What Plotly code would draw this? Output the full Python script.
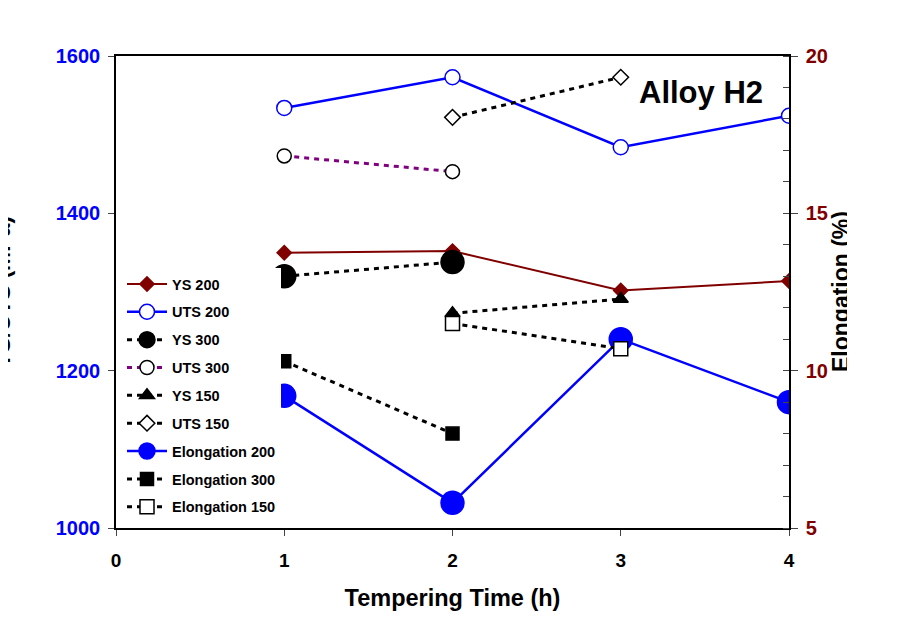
import plotly.graph_objects as go

x_ticks = [0, 1, 2, 3, 4]

# Strength (MPa), left axis
ys200_x = [1, 2, 3, 4]
ys200_y = [1350, 1352, 1302, 1314]
uts200_x = [1, 2, 3, 4]
uts200_y = [1534, 1573, 1484, 1524]
ys300_x = [1, 2]
ys300_y = [1320, 1338]
uts300_x = [1, 2]
uts300_y = [1473, 1453]
ys150_x = [2, 3]
ys150_y = [1273, 1291]
uts150_x = [2, 3]
uts150_y = [1522, 1573]

# Elongation (%), right axis
el200_x = [1, 2, 3, 4]
el200_y = [9.2, 5.8, 11.0, 9.0]
el300_x = [1, 2]
el300_y = [10.3, 8.0]
el150_x = [2, 3]
el150_y = [11.5, 10.7]

FONT = "Arial, Liberation Sans, sans-serif"
DASH = "5px,5px"

fig = go.Figure()

def add(name, x, y, color, width, dash, symbol, size, mcolor, mline, yaxis="y"):
    fig.add_trace(go.Scatter(
        x=x, y=y, name=name, yaxis=yaxis, mode="lines+markers",
        legendgroup=name,
        line=dict(color=color, width=width, dash=dash),
        marker=dict(symbol=symbol, size=size, color=mcolor,
                    line=dict(color=mline, width=1.5)),
    ))

add("YS 200", ys200_x, ys200_y, "#800000", 2, "solid", "diamond", 11, "#800000", "#800000")
add("UTS 200", uts200_x, uts200_y, "#0000FF", 2.5, "solid", "circle", 15, "white", "#0000FF")
add("YS 300", ys300_x, ys300_y, "black", 3, DASH, "circle", 23, "black", "black")
add("UTS 300", uts300_x, uts300_y, "#800080", 3, DASH, "circle", 14, "white", "black")
add("YS 150", ys150_x, ys150_y, "black", 3, DASH, "triangle-up", 13, "black", "black")
add("UTS 150", uts150_x, uts150_y, "black", 3, DASH, "diamond", 12, "white", "black")
add("Elongation 200", el200_x, el200_y, "#0000FF", 2.5, "solid", "circle", 23, "#0000FF", "#0000FF", "y2")
add("Elongation 300", el300_x, el300_y, "black", 3, DASH, "square", 13, "black", "black", "y2")
add("Elongation 150", el150_x, el150_y, "black", 3, DASH, "square", 14, "white", "black", "y2")

# page body has an 8px margin; figure coordinates below are page coords - 8
OFF = 8
W, H = 847 - OFF, 613
L = 116 - OFF
R = W - (789 - OFF)
T = 56 - OFF
B = H - (528 - OFF)
pw = 789 - 116
ph = 528 - 56

def px(xpage):
    return (xpage - 116) / pw

def py(ypage):
    return (528 - ypage) / ph

fig.update_layout(
    width=W, height=H,
    margin=dict(l=L, r=R, t=T, b=B, pad=0),
    paper_bgcolor="white", plot_bgcolor="white",
    font=dict(family=FONT, color="black"),
    showlegend=True,
    legend=dict(
        x=px(281), xanchor="right",
        y=py(268), yanchor="top",
        bgcolor="white", borderwidth=0,
        font=dict(family=FONT, size=14.5, color="black", weight="bold"),
        tracegroupgap=6, itemwidth=40,
    ),
    xaxis=dict(
        range=[0, 4], tickvals=x_ticks, ticks="outside", ticklen=6, tickwidth=1,
        tickcolor="#444", showline=True, linecolor="black", linewidth=2,
        mirror=True, showgrid=False, zeroline=False, ticklabelstandoff=8,
        tickfont=dict(family=FONT, size=19, color="black", weight="bold"),
        title=dict(text="Tempering Time (h)", standoff=20,
                   font=dict(family=FONT, size=23.5, color="black", weight="bold")),
    ),
    yaxis=dict(
        range=[1000, 1600], dtick=200, ticks="outside", ticklen=6, tickwidth=1,
        tickcolor="#444", showline=True, linecolor="black", linewidth=1.5,
        showgrid=False, zeroline=False, ticklabelstandoff=4,
        tickfont=dict(family=FONT, size=20, color="#0000FF", weight="bold"),
    ),
    yaxis2=dict(
        range=[5, 20], dtick=5, overlaying="y", side="right",
        ticks="outside", ticklen=7, tickwidth=1, tickcolor="#444",
        minor=dict(dtick=1, ticks="inside", ticklen=6, tickcolor="#444"),
        showline=True, linecolor="black", linewidth=1.5,
        showgrid=False, zeroline=False, ticklabelstandoff=4,
        tickfont=dict(family=FONT, size=20, color="#800000", weight="bold"),
    ),
    annotations=[
        dict(text="Alloy H2", x=px(701), y=py(92), xanchor="center", yanchor="middle",
             xref="paper", yref="paper", showarrow=False,
             font=dict(family=FONT, size=31, color="black", weight="bold")),
        dict(text="YS/UTS (MPa)", x=px(2), y=0.5, textangle=-90,
             xanchor="center", yanchor="middle",
             xref="paper", yref="paper", showarrow=False,
             font=dict(family=FONT, size=23, color="black", weight="bold")),
        dict(text="Elongation (%)", x=px(841), y=0.5, textangle=-90,
             xanchor="center", yanchor="middle",
             xref="paper", yref="paper", showarrow=False,
             font=dict(family=FONT, size=23, color="black", weight="bold")),
    ],
)

fig.write_html("out.html")
